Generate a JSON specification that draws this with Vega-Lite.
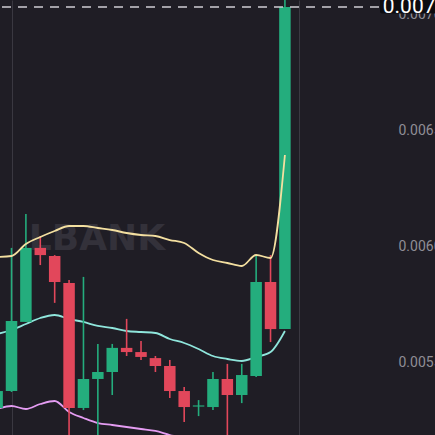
{
  "$schema": "https://vega.github.io/schema/vega-lite/v6.json",
  "width": 395,
  "height": 435,
  "autosize": {"type": "none"},
  "padding": {"left": 0, "top": 0, "right": 40, "bottom": 0},
  "background": "#1f1d25",
  "config": {
    "view": {"stroke": null},
    "axis": {"gridColor": "#3a3841", "gridWidth": 1, "domain": false, "ticks": false, "title": null}
  },
  "datasets": {
    "candles": [
      {"i": 0, "open": 0.005332, "close": 0.005405, "high": 0.005430, "low": 0.005320},
      {"i": 1, "open": 0.005405, "close": 0.005707, "high": 0.006022, "low": 0.005401},
      {"i": 2, "open": 0.005703, "close": 0.006022, "high": 0.006168, "low": 0.005703},
      {"i": 3, "open": 0.006022, "close": 0.005991, "high": 0.006073, "low": 0.005948},
      {"i": 4, "open": 0.005987, "close": 0.005875, "high": 0.005991, "low": 0.005785},
      {"i": 5, "open": 0.005871, "close": 0.005332, "high": 0.005884, "low": 0.005172},
      {"i": 6, "open": 0.005332, "close": 0.005457, "high": 0.005897, "low": 0.005323},
      {"i": 7, "open": 0.005457, "close": 0.005487, "high": 0.005608, "low": 0.005172},
      {"i": 8, "open": 0.005487, "close": 0.005591, "high": 0.005608, "low": 0.005388},
      {"i": 9, "open": 0.005591, "close": 0.005573, "high": 0.005716, "low": 0.005556},
      {"i": 10, "open": 0.005573, "close": 0.005552, "high": 0.005621, "low": 0.005539},
      {"i": 11, "open": 0.005547, "close": 0.005513, "high": 0.005556, "low": 0.005487},
      {"i": 12, "open": 0.005513, "close": 0.005405, "high": 0.005539, "low": 0.005375},
      {"i": 13, "open": 0.005405, "close": 0.005336, "high": 0.005422, "low": 0.005272},
      {"i": 14, "open": 0.005338, "close": 0.005343, "high": 0.005366, "low": 0.005297},
      {"i": 15, "open": 0.005336, "close": 0.005457, "high": 0.005487, "low": 0.005323},
      {"i": 16, "open": 0.005457, "close": 0.005388, "high": 0.005522, "low": 0.005150},
      {"i": 17, "open": 0.005388, "close": 0.005474, "high": 0.005522, "low": 0.005353},
      {"i": 18, "open": 0.005470, "close": 0.005875, "high": 0.005987, "low": 0.005466},
      {"i": 19, "open": 0.005875, "close": 0.005672, "high": 0.005991, "low": 0.005616},
      {"i": 20, "open": 0.005672, "close": 0.007060, "high": 0.007099, "low": 0.005672}
    ],
    "bands": [
      {"i": 0, "upper": 0.0059828, "middle": 0.0056509, "lower": 0.0053276},
      {"i": 1, "upper": 0.0059871, "middle": 0.0056681, "lower": 0.0053405},
      {"i": 2, "upper": 0.0060388, "middle": 0.0056940, "lower": 0.0053276},
      {"i": 3, "upper": 0.0060690, "middle": 0.0057198, "lower": 0.0053491},
      {"i": 4, "upper": 0.0060948, "middle": 0.0057328, "lower": 0.0053621},
      {"i": 5, "upper": 0.0061164, "middle": 0.0057155, "lower": 0.0053147},
      {"i": 6, "upper": 0.0061164, "middle": 0.0057026, "lower": 0.0052888},
      {"i": 7, "upper": 0.0061078, "middle": 0.0056854, "lower": 0.0052672},
      {"i": 8, "upper": 0.0060991, "middle": 0.0056767, "lower": 0.0052586},
      {"i": 9, "upper": 0.0060862, "middle": 0.0056638, "lower": 0.0052500},
      {"i": 10, "upper": 0.0060776, "middle": 0.0056595, "lower": 0.0052414},
      {"i": 11, "upper": 0.0060733, "middle": 0.0056552, "lower": 0.0052328},
      {"i": 12, "upper": 0.0060560, "middle": 0.0056293, "lower": 0.0052155},
      {"i": 13, "upper": 0.0060431, "middle": 0.0056121, "lower": 0.0052026},
      {"i": 14, "upper": 0.0060000, "middle": 0.0055862, "lower": 0.0051853},
      {"i": 15, "upper": 0.0059698, "middle": 0.0055560, "lower": 0.0051681},
      {"i": 16, "upper": 0.0059569, "middle": 0.0055431, "lower": 0.0051552},
      {"i": 17, "upper": 0.0059440, "middle": 0.0055345, "lower": 0.0051422},
      {"i": 18, "upper": 0.0059914, "middle": 0.0055517, "lower": 0.0051422},
      {"i": 19, "upper": 0.0059784, "middle": 0.0055733, "lower": 0.0051509},
      {"i": 20, "upper": 0.0064224, "middle": 0.0056638, "lower": 0.0051940}
    ]
  },
  "layer": [
    {
      "data": {"values": [{"label": "LBANK"}]},
      "mark": {"type": "text", "font": "DejaVu Sans", "fontWeight": "bold", "fontSize": 36, "color": "#33313a", "align": "center", "baseline": "middle"},
      "encoding": {
        "text": {"field": "label"},
        "x": {"datum": 6.94, "type": "quantitative", "scale": {"domain": [0.2, 27.65], "nice": false, "zero": false, "padding": 0}, "axis": {"values": [1, 21], "labels": false, "grid": true, "orient": "bottom"}},
        "y": {"datum": 0.00606, "type": "quantitative", "scale": {"domain": [0.0052155, 0.0070905], "nice": false, "zero": false, "padding": 0},
              "axis": {"orient": "right", "values": [0.0055, 0.006, 0.0065, 0.007], "format": ".4f", "labelColor": "#8f8d96", "labelFontSize": 14, "labelFont": "Roboto", "labelPadding": 3, "labelBaseline": "alphabetic", "labelOffset": -2,
                       "gridOpacity": {"condition": {"test": "datum.value > 0.0068", "value": 0}, "value": 1}}}
      }
    },
    {
      "data": {"name": "bands"},
      "mark": {"type": "line", "color": "#8fe6dc", "strokeWidth": 1.8, "interpolate": "monotone", "clip": true},
      "encoding": {"x": {"field": "i", "type": "quantitative"}, "y": {"field": "middle", "type": "quantitative"}}
    },
    {
      "data": {"name": "bands"},
      "mark": {"type": "line", "color": "#e49cf2", "strokeWidth": 1.8, "interpolate": "monotone", "clip": true},
      "encoding": {"x": {"field": "i", "type": "quantitative"}, "y": {"field": "lower", "type": "quantitative"}}
    },
    {
      "data": {"name": "candles"},
      "mark": {"type": "rule", "strokeWidth": 1.6, "clip": true},
      "encoding": {
        "x": {"field": "i", "type": "quantitative"},
        "y": {"field": "low", "type": "quantitative"},
        "y2": {"field": "high"},
        "color": {"condition": {"test": "datum.close >= datum.open", "value": "#24ad7d"}, "value": "#e2475b"}
      }
    },
    {
      "data": {"name": "candles"},
      "mark": {"type": "bar", "width": 11.5, "clip": true},
      "encoding": {
        "x": {"field": "i", "type": "quantitative"},
        "y": {"field": "open", "type": "quantitative"},
        "y2": {"field": "close"},
        "color": {"condition": {"test": "datum.close >= datum.open", "value": "#24ad7d"}, "value": "#e2475b"}
      }
    },
    {
      "data": {"name": "bands"},
      "mark": {"type": "line", "color": "#f3dfa0", "strokeWidth": 1.8, "interpolate": "monotone", "clip": true},
      "encoding": {"x": {"field": "i", "type": "quantitative"}, "y": {"field": "upper", "type": "quantitative"}}
    },
    {
      "data": {"values": [{"price": 0.0070603}]},
      "mark": {"type": "rule", "color": "#cfcdd3", "strokeWidth": 1.5, "strokeDash": [9, 7]},
      "encoding": {"y": {"field": "price", "type": "quantitative"}}
    },
    {
      "data": {"values": [{"price": 0.0070603}]},
      "mark": {"type": "rect", "color": "#0d0c10", "cornerRadius": 2},
      "encoding": {
        "x": {"datum": 26.61, "type": "quantitative"},
        "x2": {"datum": 31},
        "y": {"datum": 0.007032, "type": "quantitative"},
        "y2": {"datum": 0.00714}
      }
    },
    {
      "data": {"values": [{"price": 0.0070603, "label": "0.00706"}]},
      "mark": {"type": "text", "font": "Roboto", "fontSize": 21, "color": "#ffffff", "align": "left", "baseline": "alphabetic"},
      "encoding": {
        "text": {"field": "label"},
        "x": {"datum": 26.8, "type": "quantitative"},
        "y": {"datum": 0.0070345, "type": "quantitative"}
      }
    }
  ]
}
